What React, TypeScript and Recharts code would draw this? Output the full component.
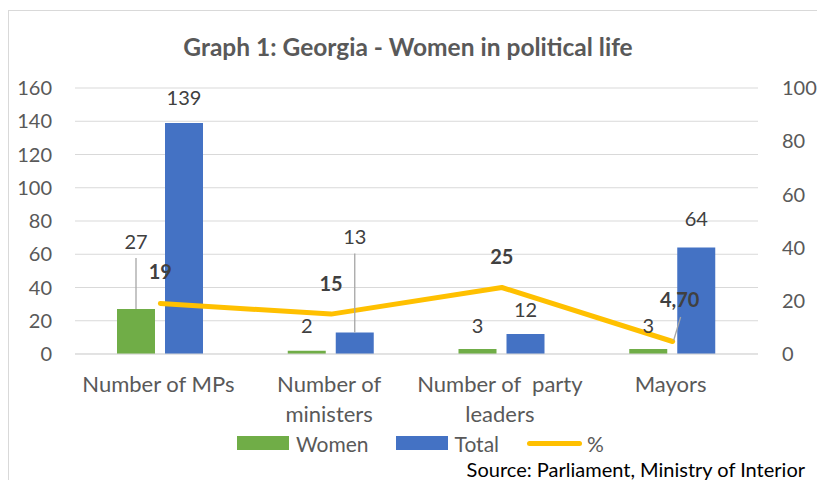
import React from "react";
import { ComposedChart, Bar, Line, XAxis, YAxis, CartesianGrid, LabelList, Legend } from "recharts";

const categories = ["Number of MPs", "Number of ministers", "Number of  party leaders", "Mayors"];
const women = [27, 2, 3, 3];
const total = [139, 13, 12, 64];
const pct = [19, 15, 25, 4.7];
const leftTicks = [0, 20, 40, 60, 80, 100, 120, 140, 160];
const rightTicks = [0, 20, 40, 60, 80, 100];

const data = categories.map((name, i) => ({ name, women: women[i], total: total[i], pct: pct[i] }));

const FONT = "Lato, 'Noto Sans', sans-serif";
const GREEN = "#70AD47";
const BLUE = "#4472C4";
const YELLOW = "#FFC000";
const GRID = "#D9D9D9";
const AXIS_TEXT = "#595959";
const LABEL_TEXT = "#404040";
const LEADER = "#A6A6A6";

// label placement styling (pixels above the mark)
const womenLift = [68, 26, 24, 24];
const womenLeader = [true, false, false, false];
const totalLift = [26, 96, 25, 30];
const totalLeader = [false, true, false, false];
const pctLift = [32.5, 31, 31.5, 42.5];
const pctShift = [0, 0, 0, 7];
const pctLeader = [false, false, false, true];

const CAT_FONT_SIZE = 22;
const CAT_WRAP = 176;

const fmtPct = (v: number) => (Number.isInteger(v) ? String(v) : v.toFixed(2).replace(".", ","));

let measureCtx: CanvasRenderingContext2D | null = null;
const measure = (s: string, size: number) => {
  if (!measureCtx) {
    const c = document.createElement("canvas");
    measureCtx = c.getContext("2d");
  }
  if (!measureCtx) return s.length * size * 0.5;
  measureCtx.font = `${size}px Lato`;
  return measureCtx.measureText(s).width;
};

const wrapWords = (label: string, size: number, maxW: number) => {
  const words = label.split(" ");
  const lines: string[] = [];
  let cur: string | null = null;
  words.forEach((w) => {
    if (cur === null) {
      cur = w;
      return;
    }
    const test = cur + " " + w;
    if (w !== "" && measure(test, size) > maxW) {
      lines.push(cur);
      cur = w;
    } else {
      cur = test;
    }
  });
  if (cur !== null) lines.push(cur);
  return lines;
};

const makeBarLabel = (lifts: number[], leaders: boolean[]) => (props: any) => {
  const { x, y, width, value, index } = props;
  const cx = Number(x) + Number(width) / 2;
  const top = Number(y);
  const ty = top - lifts[index];
  return (
    <g>
      {leaders[index] && <line x1={cx} x2={cx} y1={ty + 17} y2={top} stroke={LEADER} strokeWidth={1.3} />}
      <text x={cx} y={ty} textAnchor="middle" dominantBaseline="central" fill={LABEL_TEXT} fontSize={20} fontFamily={FONT}>
        {value}
      </text>
    </g>
  );
};

const pctLabel = (props: any) => {
  const { x, y, value, index } = props;
  const px = Number(x);
  const py = Number(y);
  const tx = px + pctShift[index];
  const ty = py - pctLift[index];
  return (
    <g>
      {pctLeader[index] && <line x1={px + 1} y1={py - 1} x2={tx + 1} y2={ty + 18} stroke={LEADER} strokeWidth={1.3} />}
      <text x={tx} y={ty} textAnchor="middle" dominantBaseline="central" fill={LABEL_TEXT} fontSize={20} fontWeight={700} fontFamily={FONT}>
        {fmtPct(Number(value))}
      </text>
    </g>
  );
};

const CategoryTick = (props: any) => {
  const { x, y, payload } = props;
  const lines = wrapWords(String(payload.value), CAT_FONT_SIZE, CAT_WRAP);
  return (
    <text x={x - 2} y={y} textAnchor="middle" fill={AXIS_TEXT} fontSize={CAT_FONT_SIZE} fontFamily={FONT} style={{ whiteSpace: "pre" }}>
      {lines.map((ln, i) => (
        <tspan key={i} x={x - 2} dy={30}>
          {ln}
        </tspan>
      ))}
    </text>
  );
};

const legendItems = [
  { label: "Women", color: GREEN, type: "rect" },
  { label: "Total", color: BLUE, type: "rect" },
  { label: "%", color: YELLOW, type: "line" },
];

const LegendContent = () => (
  <div style={{ display: "flex", alignItems: "center", height: 30, paddingLeft: 228, fontFamily: FONT, fontSize: 21, color: AXIS_TEXT }}>
    {legendItems.map((it, i) => (
      <div key={it.label} style={{ display: "flex", alignItems: "center", marginRight: i === 0 ? 27 : 28 }}>
        {it.type === "rect" ? (
          <div style={{ width: 52, height: 14, background: it.color, marginRight: 7 }} />
        ) : (
          <div style={{ width: 55, height: 5, borderRadius: 3, background: it.color, marginRight: 5 }} />
        )}
        <span>{it.label}</span>
      </div>
    ))}
  </div>
);

export default function App() {
  return (
    <div style={{ position: "relative", width: 813, height: 480, border: `1px solid ${GRID}`, marginTop: 2, background: "#fff" }}>
      <style>{`html,body{overflow:hidden}`}</style>
      <div
        style={{
          position: "absolute",
          left: 0,
          top: 21,
          width: 798,
          textAlign: "center",
          fontFamily: FONT,
          fontWeight: 700,
          fontSize: 24.5,
          color: AXIS_TEXT,
          lineHeight: "30px",
        }}
      >
        Graph 1: Georgia - Women in political life
      </div>
      <ComposedChart
        width={813}
        height={469}
        data={data}
        margin={{ top: 77, right: 6, left: 6, bottom: 30 }}
        barGap={10}
        barSize={38}
      >
        <CartesianGrid yAxisId="left" vertical={false} stroke={GRID} strokeWidth={1} />
        <XAxis dataKey="name" interval={0} height={66} tickLine={false} axisLine={{ stroke: GRID }} tick={<CategoryTick />} />
        <YAxis
          yAxisId="left"
          domain={[0, 160]}
          ticks={leftTicks}
          width={60}
          axisLine={false}
          tickLine={false}
          tickMargin={17}
          tick={{ fill: AXIS_TEXT, fontSize: 20, fontFamily: FONT }}
        />
        <YAxis
          yAxisId="right"
          orientation="right"
          domain={[0, 100]}
          ticks={rightTicks}
          width={58}
          axisLine={false}
          tickLine={false}
          tickMargin={18}
          tick={{ fill: AXIS_TEXT, fontSize: 20, fontFamily: FONT, textAnchor: "start" }}
        />
        <Legend
          content={<LegendContent />}
          wrapperStyle={{ top: 417, left: 0, width: 813, height: 30 }}
        />
        <Bar yAxisId="left" dataKey="women" name="Women" fill={GREEN} isAnimationActive={false}>
          <LabelList dataKey="women" content={makeBarLabel(womenLift, womenLeader)} />
        </Bar>
        <Bar yAxisId="left" dataKey="total" name="Total" fill={BLUE} isAnimationActive={false}>
          <LabelList dataKey="total" content={makeBarLabel(totalLift, totalLeader)} />
        </Bar>
        <Line
          yAxisId="right"
          dataKey="pct"
          name="%"
          stroke={YELLOW}
          strokeWidth={5}
          strokeLinecap="round"
          strokeLinejoin="round"
          dot={false}
          isAnimationActive={false}
        >
          <LabelList dataKey="pct" content={pctLabel} />
        </Line>
      </ComposedChart>
      <div
        style={{
          position: "absolute",
          right: 813 - 796,
          top: 446,
          fontFamily: FONT,
          fontSize: 20,
          color: "#000",
          lineHeight: "24px",
          whiteSpace: "nowrap",
        }}
      >
        Source: Parliament, Ministry of Interior
      </div>
    </div>
  );
}
